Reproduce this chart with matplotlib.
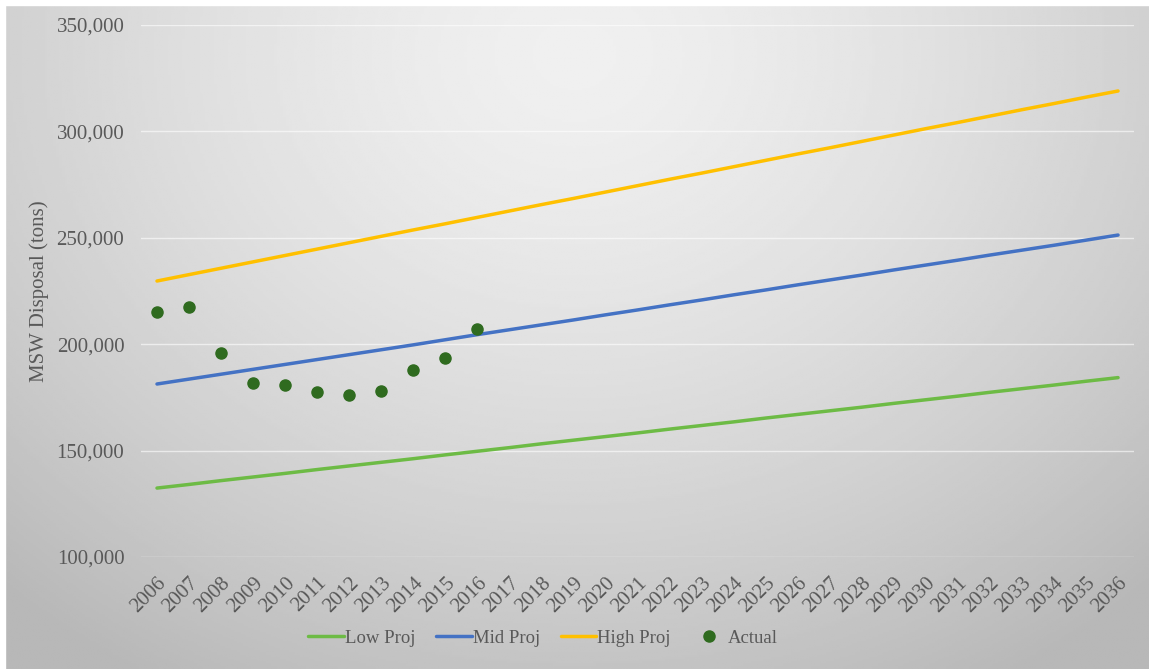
import numpy as np
import matplotlib.pyplot as plt
from matplotlib.ticker import FuncFormatter

years = list(range(2006, 2037))

# values (tons)
low_proj = [132400, 134100, 135900, 137600, 139300, 141100, 142800, 144500, 146200, 148000, 149700,
            151400, 153200, 154900, 156600, 158300, 160100, 161800, 163500, 165300, 167000,
            168700, 170400, 172200, 173900, 175600, 177400, 179100, 180800, 182600, 184300]
mid_proj = [181300, 183600, 185900, 188200, 190500, 192800, 195100, 197400, 199700, 202100, 204500,
            206800, 209100, 211400, 213800, 216100, 218500, 220800, 223200, 225500, 227900,
            230200, 232500, 234900, 237200, 239500, 241900, 244200, 246500, 248900, 251300]
high_proj = [229700, 232700, 235700, 238700, 241700, 244700, 247700, 250700, 253700, 256600, 259600,
             262600, 265600, 268500, 271500, 274500, 277500, 280400, 283400, 286400, 289400,
             292300, 295300, 298300, 301300, 304200, 307200, 310200, 313100, 316100, 319000]
actual_years = list(range(2006, 2017))
actual = [215300, 217400, 196000, 181900, 180700, 177500, 176300, 178100, 187700, 193400, 207000]

plt.rcParams['font.family'] = ['Liberation Serif', 'DejaVu Serif']

fig = plt.figure(figsize=(11.49, 6.69), dpi=100)

# gray radial gradient background, lighter near the top middle
bg = fig.add_axes([0, 0, 1, 1], zorder=-10)
gx, gy = np.meshgrid(np.linspace(0, 1, 400), np.linspace(0, 1, 300))
r = np.sqrt(((gx - 0.5) / 0.72) ** 2 + ((gy - 0.92) / 1.05) ** 2)
shade = np.clip(0.94 - 0.21 * r ** 1.5, 0.72, 1)
bg.imshow(shade, cmap='gray', vmin=0, vmax=1, extent=[0, 1, 0, 1], origin='lower', aspect='auto')
bg.axhspan(0.993, 1, color='white')
bg.axvspan(0, 0.004, color='white')
bg.set_xlim(0, 1)
bg.set_ylim(0, 1)
bg.axis('off')

ax = fig.add_axes([0.1227, 0.1674, 0.8643, 0.7952])
ax.patch.set_alpha(0)
x = np.arange(len(years))
xa = np.arange(len(actual_years))

ax.plot(x, low_proj, color='#6dbb45', lw=2.5, label='Low Proj', solid_capstyle='round')
ax.plot(x, mid_proj, color='#4472c4', lw=2.5, label='Mid Proj', solid_capstyle='round')
ax.plot(x, high_proj, color='#ffc000', lw=2.5, label='High Proj', solid_capstyle='round')
ax.plot(xa, actual, 'o', color='#2f6b1f', ms=8, label='Actual', zorder=5)

ax.set_xlim(-0.5, len(years) - 0.5)
ax.set_ylim(100000, 350000)
ax.set_yticks(range(100000, 350001, 50000))
ax.yaxis.set_major_formatter(FuncFormatter(lambda v, p: f'{int(v):,}'))
ax.set_xticks(x)
ax.set_xticklabels([str(y) for y in years], rotation=45, ha='right', rotation_mode='anchor')
ax.tick_params(length=0, labelsize=15, labelcolor='#595959')
ax.tick_params(axis='y', pad=12)
ax.tick_params(axis='x', pad=12)
ax.grid(axis='y', color='white', lw=1, alpha=0.6)
ax.set_axisbelow(True)
for s in ax.spines.values():
    s.set_visible(False)

ax.set_ylabel('MSW Disposal (tons)', fontsize=15, color='#595959', labelpad=5)

ax.legend(loc='center', bbox_to_anchor=(0.405, -0.153), ncol=4, frameon=False,
          fontsize=13.5, labelcolor='#595959', handlelength=1.9, handletextpad=0.05,
          columnspacing=1.1)

fig.savefig('out.png', dpi=100)
